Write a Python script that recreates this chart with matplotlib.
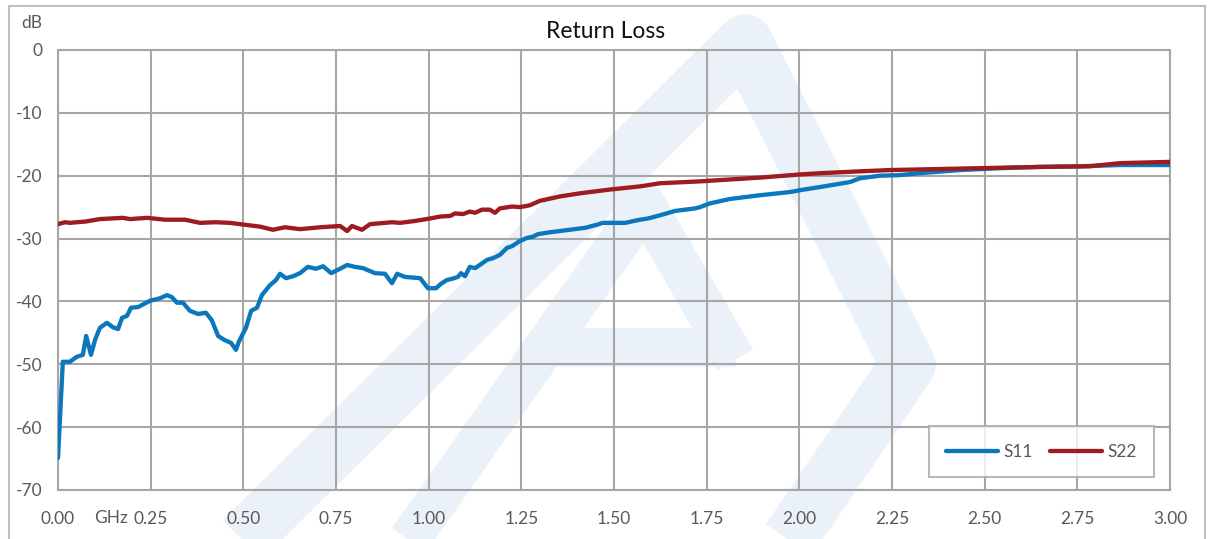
import matplotlib
matplotlib.use('Agg')
import matplotlib.pyplot as plt
from matplotlib.lines import Line2D
from matplotlib.patches import Rectangle

plt.rcParams['font.family'] = ['Lato', 'DejaVu Sans']
plt.rcParams['axes.unicode_minus'] = False

# S11 trace (GHz, dB)
s11_freq = [0.000, 0.013, 0.032, 0.051, 0.067, 0.076, 0.089, 0.100, 0.113, 0.132,
            0.148, 0.162, 0.173, 0.186, 0.197, 0.216, 0.248, 0.275, 0.294, 0.307,
            0.321, 0.337, 0.356, 0.378, 0.399, 0.415, 0.432, 0.448, 0.467, 0.480,
            0.488, 0.507, 0.521, 0.537, 0.550, 0.572, 0.588, 0.599, 0.615, 0.634,
            0.653, 0.674, 0.696, 0.715, 0.737, 0.761, 0.780, 0.801, 0.823, 0.855,
            0.882, 0.901, 0.915, 0.936, 0.977, 0.998, 1.020, 1.033, 1.049, 1.063,
            1.079, 1.087, 1.098, 1.111, 1.125, 1.138, 1.157, 1.174, 1.192, 1.211,
            1.225, 1.246, 1.265, 1.281, 1.295, 1.327, 1.354, 1.394, 1.421, 1.454,
            1.470, 1.530, 1.570, 1.592, 1.624, 1.665, 1.719, 1.732, 1.759, 1.813,
            1.894, 1.975, 2.002, 2.056, 2.137, 2.164, 2.218, 2.272, 2.325, 2.434,
            2.541, 2.649, 2.757, 2.865, 3.000]
s11_db = [-64.9, -49.6, -49.6, -48.8, -48.5, -45.5, -48.5, -46.1, -44.2, -43.4,
          -44.1, -44.4, -42.6, -42.3, -41.0, -40.9, -39.9, -39.5, -39.0, -39.3,
          -40.2, -40.2, -41.5, -42.0, -41.8, -43.0, -45.5, -46.1, -46.6, -47.7,
          -46.4, -44.2, -41.5, -41.0, -39.0, -37.4, -36.6, -35.6, -36.3, -36.0,
          -35.5, -34.5, -34.8, -34.4, -35.5, -34.8, -34.2, -34.5, -34.7, -35.5,
          -35.6, -37.1, -35.6, -36.1, -36.3, -37.9, -37.9, -37.2, -36.6, -36.4,
          -36.1, -35.5, -36.0, -34.5, -34.7, -34.2, -33.4, -33.1, -32.6, -31.5,
          -31.2, -30.4, -29.9, -29.7, -29.3, -29.0, -28.8, -28.5, -28.3, -27.8,
          -27.5, -27.5, -27.0, -26.8, -26.3, -25.6, -25.2, -25.0, -24.4, -23.7,
          -23.1, -22.6, -22.3, -21.8, -21.0, -20.4, -20.0, -19.9, -19.6, -19.1,
          -18.8, -18.6, -18.5, -18.3, -18.3]

# S22 trace (GHz, dB)
s22_freq = [0.000, 0.019, 0.032, 0.051, 0.073, 0.113, 0.175, 0.194, 0.240, 0.289,
            0.343, 0.383, 0.424, 0.464, 0.504, 0.545, 0.580, 0.612, 0.653, 0.707,
            0.761, 0.780, 0.793, 0.820, 0.842, 0.882, 0.901, 0.923, 0.963, 1.004,
            1.031, 1.058, 1.071, 1.093, 1.111, 1.125, 1.144, 1.165, 1.179, 1.192,
            1.225, 1.246, 1.273, 1.300, 1.354, 1.408, 1.489, 1.570, 1.624, 1.732,
            1.786, 1.894, 2.002, 2.056, 2.164, 2.245, 2.325, 2.487, 2.649, 2.784,
            2.865, 3.000]
s22_db = [-27.7, -27.4, -27.5, -27.4, -27.3, -26.9, -26.7, -26.9, -26.7, -27.0,
          -27.0, -27.5, -27.4, -27.5, -27.8, -28.1, -28.6, -28.2, -28.5, -28.2,
          -28.0, -28.8, -28.0, -28.6, -27.7, -27.5, -27.4, -27.5, -27.2, -26.8,
          -26.5, -26.4, -26.0, -26.1, -25.7, -25.9, -25.4, -25.4, -25.9, -25.2,
          -24.9, -25.0, -24.7, -24.0, -23.3, -22.8, -22.2, -21.7, -21.2, -20.9,
          -20.7, -20.3, -19.8, -19.6, -19.3, -19.1, -19.0, -18.8, -18.6, -18.5,
          -18.0, -17.8]

x_ticks = [0.0, 0.25, 0.5, 0.75, 1.0, 1.25, 1.5, 1.75, 2.0, 2.25, 2.5, 2.75, 3.0]
x_tick_labels = ['%.2f' % v for v in x_ticks]
y_ticks = [0, -10, -20, -30, -40, -50, -60, -70]

W, H = 1212, 539
fig = plt.figure(figsize=(W / 100, H / 100), dpi=100)

def px(x, y):
    # pixel position -> figure fraction
    return x / W, 1 - y / H

# faint logo watermark behind the chart
wm = '#ebf1f8'
def band(points, width):
    xs, ys = zip(*[px(x, y) for x, y in points])
    fig.add_artist(Line2D(xs, ys, color=wm, lw=width, solid_joinstyle='round',
                          solid_capstyle='butt', zorder=0))

band([(222, 560), (745, 42), (908, 365), (775, 560)], 40)
band([(395, 560), (645, 205), (735, 360)], 30)
band([(545, 347), (735, 347)], 28)

# outer frame
fig.add_artist(Rectangle(px(9, 545), 1196 / W, 539 / H, fill=False,
                         edgecolor='#bfbfbf', lw=1.5, zorder=1))

ax = fig.add_axes([58 / W, 1 - 490 / H, (1170 - 58) / W, (490 - 50) / H])
ax.patch.set_alpha(0)

ax.plot(s11_freq, s11_db, color='#0b77bd', lw=3.1, label='S11', zorder=3,
        solid_capstyle='round')
ax.plot(s22_freq, s22_db, color='#9e1b1f', lw=3.1, label='S22', zorder=3,
        solid_capstyle='round')

ax.set_xlim(0, 3)
ax.set_ylim(-70, 0)
ax.set_xticks(x_ticks)
ax.set_xticklabels(x_tick_labels)
ax.set_yticks(y_ticks)
ax.grid(True, color='#a6a6a6', lw=1.5, zorder=1)
for s in ax.spines.values():
    s.set_color('#a6a6a6')
    s.set_linewidth(1.5)
ax.tick_params(length=0, labelsize=12.5, colors='#595959')
ax.tick_params(axis='x', pad=15)
ax.tick_params(axis='y', pad=11)

fig.text(*px(606, 31), 'Return Loss', fontsize=16.5, color='#111111',
         ha='center', va='center')
fig.text(*px(32, 23), 'dB', fontsize=12.5, color='#595959', ha='center', va='center')
fig.text(*px(111, 518), 'GHz', fontsize=12.5, color='#595959', ha='center', va='center')

leg = ax.legend(loc='lower right', bbox_to_anchor=(0.9856, 0.0295), ncol=2,
                fontsize=12.5, frameon=True, fancybox=False, handlelength=3.0,
                columnspacing=1.0, handletextpad=0.3, borderpad=1.0,
                borderaxespad=0, labelcolor='#595959')
leg.get_frame().set_edgecolor('#a6a6a6')
leg.get_frame().set_linewidth(1.5)

fig.savefig('out.png', dpi=100)
